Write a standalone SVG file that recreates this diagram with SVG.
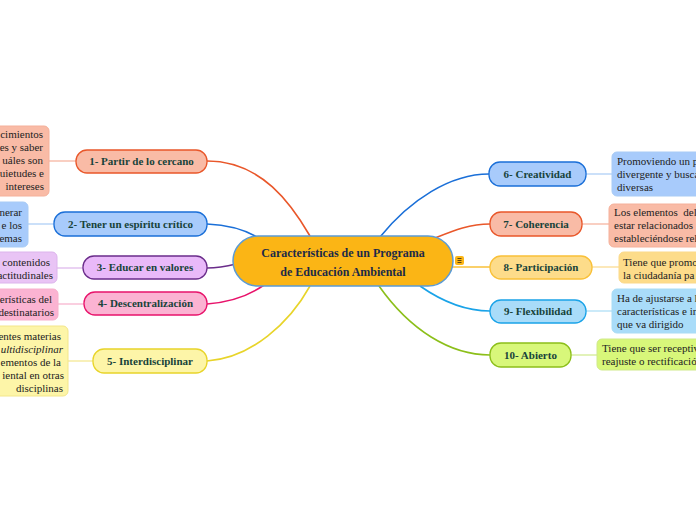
<svg xmlns="http://www.w3.org/2000/svg" width="696" height="520" viewBox="0 0 696 520">
<style>
.node text{font-family:"Liberation Serif","Times New Roman",serif;font-weight:bold;font-size:11px;fill:#17433a;text-anchor:middle}
.note text{font-family:"Liberation Serif","Times New Roman",serif;font-size:11px;fill:#222}
.left text{text-anchor:end}
.conn path{fill:none;stroke-width:1.6}
.nc line{stroke-width:1.2}
</style>
<rect width="696" height="520" fill="#ffffff"/>
<g id="connectors" class="conn">
  <path d="M207,161 C262,161 292,205 310,236" stroke="#e9572a"/>
  <path d="M207,224 C230,225 245,230 257,237" stroke="#1a6fd8"/>
  <path d="M207,268 C220,268 228,266 236,264" stroke="#6a2c8a"/>
  <path d="M207,304 C232,302 250,295 264,285" stroke="#e8136b"/>
  <path d="M207,361 C252,358 290,322 310,286" stroke="#e8d42a"/>
  <path d="M380,237 C410,200 450,174 489,174" stroke="#1a6fd8"/>
  <path d="M435,238 C455,230 470,224 490,224" stroke="#e9572a"/>
  <path d="M452,267 L490,267" stroke="#f9c038"/>
  <path d="M420,286 C440,300 465,311 490,311" stroke="#1aa3e8"/>
  <path d="M379,286 C410,330 450,355 490,355" stroke="#8cbf1a"/>
</g>
<g id="note-connectors" class="nc">
  <line x1="49" y1="161" x2="76" y2="161" stroke="#f5b09a"/>
  <line x1="28" y1="224" x2="54" y2="224" stroke="#a8cbf5"/>
  <line x1="57" y1="268" x2="83" y2="268" stroke="#dcb4ec"/>
  <line x1="58" y1="304" x2="84" y2="304" stroke="#f7b0cc"/>
  <line x1="68" y1="361" x2="93" y2="361" stroke="#f3e68a"/>
  <line x1="586" y1="174" x2="612" y2="174" stroke="#a8cbf5"/>
  <line x1="582" y1="224" x2="609" y2="224" stroke="#f5b09a"/>
  <line x1="592" y1="267" x2="619" y2="267" stroke="#fbd98a"/>
  <line x1="586" y1="311" x2="612" y2="311" stroke="#a8dcf5"/>
  <line x1="571" y1="355" x2="597" y2="355" stroke="#cfe98a"/>
</g>
<g id="center">
  <rect x="233" y="236" width="220" height="50" rx="25" fill="#fbb515" stroke="#5b9bd5" stroke-width="1.5"/>
  <text x="343" y="257" font-family="Liberation Serif,Times New Roman,serif" font-weight="bold" font-size="12" fill="#1c2a48" text-anchor="middle">Características de un Programa</text>
  <text x="343" y="276" font-family="Liberation Serif,Times New Roman,serif" font-weight="bold" font-size="12" fill="#1c2a48" text-anchor="middle">de Educación Ambiental</text>
  <rect x="455" y="256" width="9" height="9" rx="2" fill="#fbb515"/>
  <path d="M457.5,258.5h4M457.5,260.5h4M457.5,262.5h4" stroke="#5a4410" stroke-width="1"/>
</g>
<g id="n1" class="node">
  <rect x="76" y="150" width="131" height="23" rx="11" fill="#f9bba6" stroke="#e9572a" stroke-width="1.3"/>
  <text x="141.5" y="165">1- Partir de lo cercano</text>
</g>
<g id="note1" class="note left">
  <rect x="-60" y="126" width="109" height="70" rx="5" fill="#f9bba6" stroke="#f5b09a"/>
  <text x="43" y="138">cimientos</text>
  <text x="43" y="151">es y saber</text>
  <text x="43" y="164">uáles son</text>
  <text x="44" y="177">uietudes e</text>
  <text x="44" y="190">intereses</text>
</g>
<g id="n2" class="node">
  <rect x="54" y="212" width="153" height="24" rx="11" fill="#a8cbfb" stroke="#1a6fd8" stroke-width="1.3"/>
  <text x="130.5" y="228">2- Tener un espíritu crítico</text>
</g>
<g id="note2" class="note left">
  <rect x="-60" y="202" width="88" height="45" rx="5" fill="#a8cbfb" stroke="#a8cbf5"/>
  <text x="22" y="216">nerar</text>
  <text x="22" y="229">e los</text>
  <text x="22" y="242">lemas</text>
</g>
<g id="n3" class="node">
  <rect x="83" y="256" width="124" height="23" rx="11" fill="#e9b9f9" stroke="#6a2c8a" stroke-width="1.3"/>
  <text x="145" y="271">3- Educar en valores</text>
</g>
<g id="note3" class="note left">
  <rect x="-60" y="252" width="117" height="31" rx="5" fill="#e9c4f5" stroke="#dcb4ec"/>
  <text x="50" y="266">contenidos</text>
  <text x="53" y="279">actitudinales</text>
</g>
<g id="n4" class="node">
  <rect x="84" y="292" width="123" height="23" rx="11" fill="#fbb3d2" stroke="#e8136b" stroke-width="1.3"/>
  <text x="145.5" y="307">4- Descentralización</text>
</g>
<g id="note4" class="note left">
  <rect x="-60" y="289" width="118" height="31" rx="5" fill="#fbb3d2" stroke="#f7b0cc"/>
  <text x="52" y="303">erísticas del</text>
  <text x="54" y="316">destinatarios</text>
</g>
<g id="n5" class="node">
  <rect x="93" y="349" width="114" height="24" rx="11" fill="#fdf5a8" stroke="#e8d42a" stroke-width="1.3"/>
  <text x="150" y="365">5- Interdisciplinar</text>
</g>
<g id="note5" class="note left">
  <rect x="-60" y="326" width="128" height="70" rx="5" fill="#fdf5a8" stroke="#f3e68a"/>
  <text x="61" y="340">entes materias</text>
  <text x="63" y="353" font-style="italic">ultidisciplinar</text>
  <text x="61" y="366">ementos de la</text>
  <text x="64" y="379">iental en otras</text>
  <text x="63" y="392">disciplinas</text>
</g>
<g id="n6" class="node">
  <rect x="489" y="162" width="97" height="24" rx="11" fill="#a8cbfb" stroke="#1a6fd8" stroke-width="1.3"/>
  <text x="537.5" y="178">6- Creatividad</text>
</g>
<g id="note6" class="note">
  <rect x="612" y="152" width="150" height="44" rx="5" fill="#a8cbfb" stroke="#a8cbf5"/>
  <text x="617" y="165">Promoviendo un p</text>
  <text x="617" y="178">divergente y busca</text>
  <text x="617" y="191">diversas</text>
</g>
<g id="n7" class="node">
  <rect x="490" y="212" width="92" height="24" rx="11" fill="#f9bba6" stroke="#e9572a" stroke-width="1.3"/>
  <text x="536" y="228">7- Coherencia</text>
</g>
<g id="note7" class="note">
  <rect x="609" y="204" width="150" height="43" rx="5" fill="#f9bba6" stroke="#f5b09a"/>
  <text x="614" y="216" xml:space="preserve">Los elementos  del</text>
  <text x="614" y="229">estar relacionados</text>
  <text x="614" y="242">estableciéndose rel</text>
</g>
<g id="n8" class="node">
  <rect x="490" y="256" width="102" height="23" rx="11" fill="#fddc8a" stroke="#f9c038" stroke-width="1.3"/>
  <text x="541" y="271">8- Participación</text>
</g>
<g id="note8" class="note">
  <rect x="619" y="252" width="150" height="31" rx="5" fill="#fddc8a" stroke="#fbd98a"/>
  <text x="623" y="266">Tiene que promo</text>
  <text x="623" y="279">la ciudadanía pa</text>
</g>
<g id="n9" class="node">
  <rect x="490" y="300" width="96" height="23" rx="11" fill="#a9dcf9" stroke="#1aa3e8" stroke-width="1.3"/>
  <text x="538" y="315">9- Flexibilidad</text>
</g>
<g id="note9" class="note">
  <rect x="612" y="289" width="150" height="44" rx="5" fill="#a9dcf9" stroke="#a8dcf5"/>
  <text x="617" y="302">Ha de ajustarse a l</text>
  <text x="617" y="315">características e in</text>
  <text x="617" y="328">que va dirigido</text>
</g>
<g id="n10" class="node">
  <rect x="490" y="343" width="81" height="24" rx="11" fill="#d8f77a" stroke="#8cbf1a" stroke-width="1.3"/>
  <text x="530.5" y="359">10- Abierto</text>
</g>
<g id="note10" class="note">
  <rect x="597" y="339" width="150" height="31" rx="5" fill="#d8f77a" stroke="#cfe98a"/>
  <text x="602" y="352">Tiene que ser receptiv</text>
  <text x="602" y="365">reajuste o rectificació</text>
</g>
</svg>
